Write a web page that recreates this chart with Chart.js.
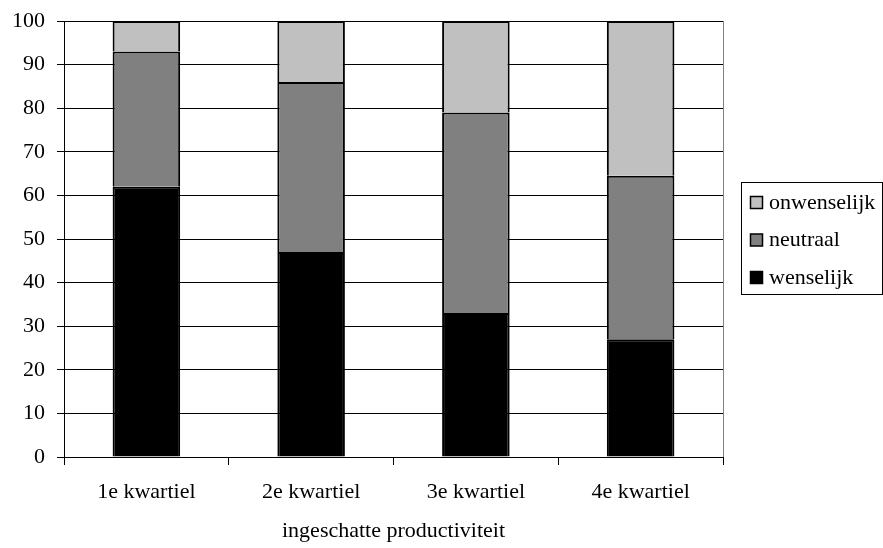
<!DOCTYPE html>
<html>
<head>
<meta charset="utf-8">
<script src="https://cdn.jsdelivr.net/npm/chart.js@4/dist/chart.umd.min.js"></script>
<style>
html,body{margin:0;padding:0;background:#fff;}
#wrap{width:883px;height:548px;position:relative;}
</style>
</head>
<body>
<div id="wrap"><canvas id="c" width="883" height="548"></canvas></div>
<script>
const categories = ["1e kwartiel", "2e kwartiel", "3e kwartiel", "4e kwartiel"];
const wenselijk = [62, 47, 33, 27];
const neutraal = [31, 39, 46, 37.5];
const onwenselijk = [7, 14, 21, 35.5];
const yTicks = [0, 10, 20, 30, 40, 50, 60, 70, 80, 90, 100];
const xTitle = "ingeschatte productiviteit";

const FONT = "'Liberation Serif', 'Times New Roman', serif";

const frameLegend = {
  id: 'frameLegend',
  afterDraw(chart) {
    const ctx = chart.ctx;
    const a = chart.chartArea;
    ctx.save();
    ctx.strokeStyle = '#808080';
    ctx.lineWidth = 1;
    ctx.beginPath();
    ctx.moveTo(Math.round(a.right) + 0.5, a.top);
    ctx.lineTo(Math.round(a.right) + 0.5, a.bottom);
    ctx.stroke();

    const bx = 741.5, by = 182.5, bw = 141, bh = 112;
    ctx.fillStyle = '#fff';
    ctx.fillRect(bx, by, bw, bh);
    ctx.strokeStyle = '#000';
    ctx.lineWidth = 1;
    ctx.strokeRect(bx, by, bw, bh);
    const ds = chart.data.datasets.slice().reverse();
    ctx.font = "22px " + FONT;
    ctx.textBaseline = 'middle';
    ds.forEach((d, i) => {
      const cy = 203 + i * 37.5;
      ctx.fillStyle = d.backgroundColor;
      ctx.fillRect(750.5, cy - 6.5, 12, 12);
      ctx.strokeStyle = '#000';
      ctx.lineWidth = 1.5;
      ctx.strokeRect(750.5, cy - 6.5, 12, 12);
      ctx.fillStyle = '#000';
      ctx.fillText(d.label, 769, cy);
    });
    ctx.restore();
  }
};

new Chart(document.getElementById('c'), {
  type: 'bar',
  data: {
    labels: categories,
    datasets: [
      { label: 'wenselijk', data: wenselijk, backgroundColor: '#000000' },
      { label: 'neutraal', data: neutraal, backgroundColor: '#808080' },
      { label: 'onwenselijk', data: onwenselijk, backgroundColor: '#c0c0c0' }
    ].map(d => Object.assign(d, { borderColor: '#000', borderWidth: 2, categoryPercentage: 1, barPercentage: 0.41 }))
  },
  options: {
    responsive: false,
    animation: false,
    devicePixelRatio: 1,
    layout: { padding: { top: 21, right: 160, left: 0, bottom: 0 } },
    plugins: { legend: { display: false }, tooltip: { enabled: false } },
    scales: {
      x: {
        stacked: true,
        offset: true,
        grid: { offset: true, drawOnChartArea: false, color: '#000', tickLength: 8, tickColor: '#000' },
        border: { color: '#000', width: 1 },
        ticks: { color: '#000', font: { family: FONT, size: 22 }, padding: 14, maxRotation: 0 },
        title: { display: true, text: xTitle, color: '#000', font: { family: FONT, size: 22 }, padding: { top: 2, bottom: 4 } },
        afterFit(s) { s.height = 91; s.paddingLeft = 0; s.paddingRight = 0; }
      },
      y: {
        stacked: true,
        min: 0, max: 100,
        afterBuildTicks(s) { s.ticks = yTicks.map(v => ({ value: v })); },
        grid: { color: '#000', tickLength: 7, tickColor: '#000' },
        border: { color: '#000', width: 1 },
        ticks: { color: '#000', font: { family: FONT, size: 22 }, padding: 12 },
        afterFit(s) { s.width = 64; s.paddingTop = 0; s.paddingBottom = 0; }
      }
    }
  },
  plugins: [frameLegend]
});
</script>
</body>
</html>
